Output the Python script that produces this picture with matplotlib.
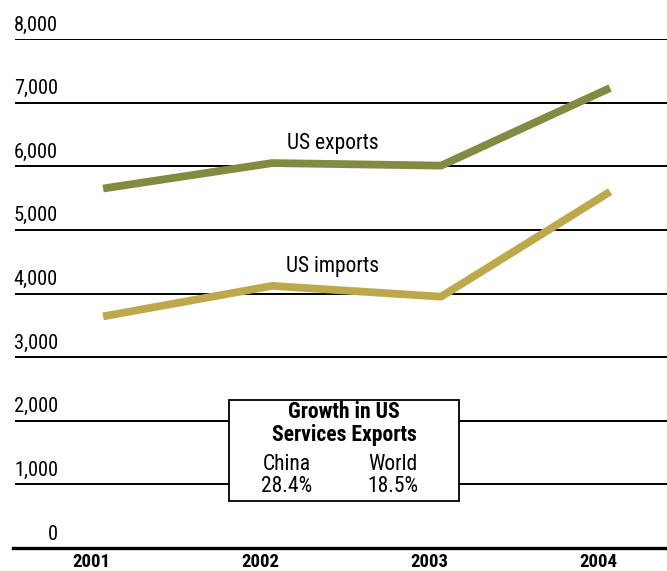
import matplotlib.pyplot as plt
import matplotlib.transforms as mtransforms
from matplotlib import font_manager

years = ['2001', '2002', '2003', '2004']
us_exports = [5650, 6050, 6010, 7230]
us_imports = [3640, 4120, 3950, 5600]
yticks = [0, 1000, 2000, 3000, 4000, 5000, 6000, 7000, 8000]

# narrow sans like the original face
names = {f.name for f in font_manager.fontManager.ttflist}
fam = 'DejaVu Sans'
for cand in ['Roboto Condensed', 'Liberation Sans Narrow', 'Open Sans Condensed']:
    if cand in names:
        fam = cand
        break
plt.rcParams['font.family'] = [fam, 'DejaVu Sans']

fig = plt.figure(figsize=(6.67, 5.71), dpi=100)
ax = fig.add_axes([13/667, 23/571, 654/667, 509/571])
x = list(range(len(years)))
ax.set_xlim(-0.533, 3.337)
ax.set_ylim(0, 8000)
ax.axis('off')

# gridlines + labels above them
for v in yticks[1:]:
    ax.axhline(v, xmin=3/654, xmax=1, color='black', lw=1.4, zorder=1)
ax.axhline(0, color='black', lw=2.4, zorder=1, clip_on=False)
for v in yticks:
    ax.text(45/654, v + 220, '{:,}'.format(v), transform=ax.get_yaxis_transform(),
            ha='right', va='center', fontsize=14.7)

exp_col = '#838a41'
imp_col = '#bda94b'
ax.plot(x, us_exports, color=exp_col, lw=5.6, solid_capstyle='butt', zorder=3)
ax.plot(x, us_imports, color=imp_col, lw=5.6, solid_capstyle='butt', zorder=3)
ax.text(1.36, 6360, 'US exports', ha='center', va='center', fontsize=15.5)
ax.text(1.36, 4430, 'US imports', ha='center', va='center', fontsize=15.5)

# year labels under the axis, a bit left of the data points
shift = mtransforms.ScaledTranslation(-12/100, 0, fig.dpi_scale_trans)
for i, yr in enumerate(years):
    ax.text(i, -75, yr, ha='center', va='top', fontsize=13.5, fontweight='bold',
            transform=ax.transData + shift)

# inset box
box_x0, box_x1 = (229-103)/169, (459-103)/169
ax.add_patch(plt.Rectangle((box_x0, 740), box_x1 - box_x0, 2320 - 740,
                           facecolor='white', edgecolor='black', lw=1.3, zorder=4))
cx = (box_x0 + box_x1) / 2
ax.text(cx, 2130, 'Growth in US', ha='center', va='center', fontsize=15.6,
        fontweight='bold', zorder=5)
ax.text(cx, 1770, 'Services Exports', ha='center', va='center', fontsize=15.6,
        fontweight='bold', zorder=5)
for lab, val, px in [('China', '28.4%', 287), ('World', '18.5%', 393)]:
    xx = (px - 103) / 169
    ax.text(xx, 1310, lab, ha='center', va='center', fontsize=15.5, zorder=5)
    ax.text(xx, 970, val, ha='center', va='center', fontsize=15.5, zorder=5)

fig.savefig('out.png', dpi=100)
